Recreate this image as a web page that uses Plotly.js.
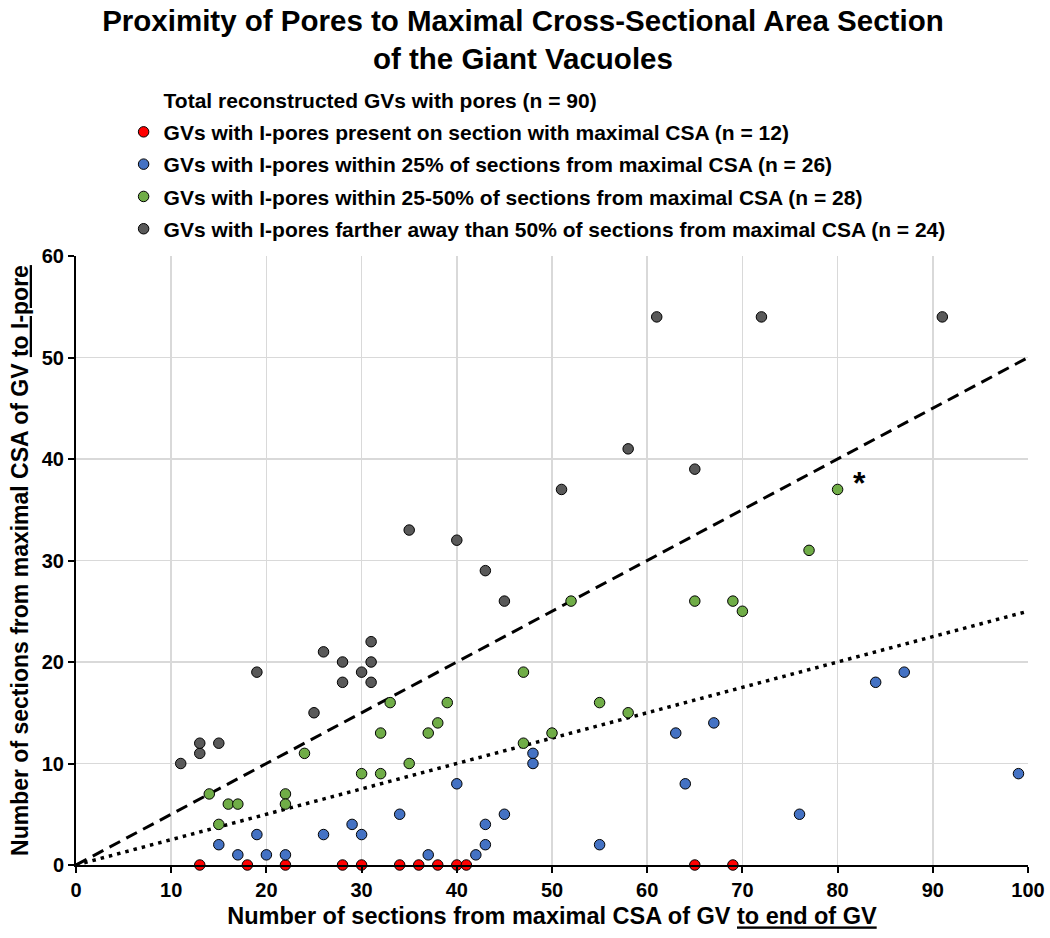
<!DOCTYPE html>
<html><head><meta charset="utf-8">
<script src="https://cdn.plot.ly/plotly-3.0.1.min.js"></script>
<style>html,body{margin:0;padding:0;background:#fff}</style>
</head><body>
<div id="chart" style="width:1050px;height:938px"></div>
<script>
// Data
const redX  = [13, 18, 22, 28, 30, 34, 36, 38, 40, 41, 65, 69];
const redY  = [0, 0, 0, 0, 0, 0, 0, 0, 0, 0, 0, 0];
const blueX = [15, 17, 19, 20, 22, 26, 29, 30, 34, 37, 40, 42, 43, 43, 45, 48, 48, 55, 63, 64, 67, 76, 84, 87, 99];
const blueY = [2, 1, 3, 1, 1, 3, 4, 3, 5, 1, 8, 1, 2, 4, 5, 11, 10, 2, 13, 8, 14, 5, 18, 19, 9];
const greenX = [14, 15, 16, 17, 22, 22, 24, 30, 32, 32, 33, 35, 37, 38, 39, 47, 47, 50, 52, 55, 58, 65, 69, 70, 77, 80];
const greenY = [7, 4, 6, 6, 7, 6, 11, 9, 9, 13, 16, 10, 13, 14, 16, 19, 12, 13, 26, 16, 15, 26, 26, 25, 31, 37];
const grayX = [11, 13, 13, 15, 19, 25, 26, 28, 28, 30, 31, 31, 31, 35, 40, 43, 45, 51, 58, 61, 65, 72, 91];
const grayY = [10, 11, 12, 12, 19, 15, 21, 20, 18, 19, 20, 18, 22, 33, 32, 29, 26, 37, 41, 54, 39, 54, 54];
const refX = [0, 100];
const halfY = [0, 50];      // dashed line: 50%
const quarterY = [0, 25];   // dotted line: 25%
const starX = 82.3, starY = 37.6;

const legendNames = [
  "Total reconstructed GVs with pores (n = 90)",
  "GVs with I-pores present on section with maximal CSA (n = 12)",
  "GVs with I-pores within 25% of sections from maximal CSA (n = 26)",
  "GVs with I-pores within 25-50% of sections from maximal CSA (n = 28)",
  "GVs with I-pores farther away than 50% of sections from maximal CSA (n = 24)"
];
const colors = ["rgba(0,0,0,0)", "#ff0000", "#4472c4", "#70ad47", "#595959"];

const FONT = "Liberation Sans, Arial, sans-serif";

function pts(x, y, i) {
  return {
    type: "scatter", mode: "markers", x: x, y: y, name: legendNames[i],
    legendgroup: "g" + i,
    marker: {size: 10.5, color: colors[i], line: {color: "#000", width: 1}},
    cliponaxis: false, hoverinfo: "x+y"
  };
}

const traces = [
  {type: "scatter", mode: "lines", x: refX, y: halfY, showlegend: false,
   line: {color: "#000", width: 3, dash: "12px,7px"}, hoverinfo: "skip"},
  {type: "scatter", mode: "lines", x: refX, y: quarterY, showlegend: false,
   line: {color: "#000", width: 3.5, dash: "3.5px,5px"}, hoverinfo: "skip"},
  {type: "scatter", mode: "markers", x: [null], y: [null], name: legendNames[0],
   legendgroup: "g0", marker: {size: 10, color: colors[0], line: {width: 0}}},
  pts(redX, redY, 1),
  pts(blueX, blueY, 2),
  pts(greenX, greenY, 3),
  pts(grayX, grayY, 4)
];

const layout = {
  width: 1050, height: 938,
  margin: {l: 76, r: 22, t: 256, b: 73},
  paper_bgcolor: "#fff", plot_bgcolor: "#fff",
  font: {family: FONT, color: "#000", weight: "bold"},
  title: {
    text: "Proximity of Pores to Maximal Cross-Sectional Area Section<br>of the Giant Vacuoles",
    font: {family: FONT, size: 29.5, color: "#000", weight: "bold"},
    x: 0.498, xanchor: "center", xref: "container",
    y: 0.967, yanchor: "top", yref: "container"
  },
  showlegend: true,
  legend: {
    x: 0.050, xanchor: "left", y: 1.29, yanchor: "top",
    xref: "paper", yref: "paper",
    font: {family: FONT, size: 21, color: "#000", weight: "bold"},
    traceorder: "grouped", tracegroupgap: 2,
    bgcolor: "rgba(0,0,0,0)", itemclick: false
  },
  xaxis: {
    range: [0, 100], dtick: 10, tick0: 0,
    showgrid: true, gridcolor: "#d9d9d9", gridwidth: 1.5,
    showline: true, linecolor: "#000", linewidth: 2,
    ticks: "outside", ticklen: 6, tickwidth: 2, tickcolor: "#000",
    zeroline: false,
    tickfont: {family: FONT, size: 20, color: "#000", weight: "bold"},
    title: {text: "Number of sections from maximal CSA of GV <u>to end of GV</u>",
            font: {family: FONT, size: 23.5, color: "#000", weight: "bold"}, standoff: 8}
  },
  yaxis: {
    range: [0, 60], dtick: 10, tick0: 0,
    showgrid: true, gridcolor: "#d9d9d9", gridwidth: 1.5,
    showline: true, linecolor: "#000", linewidth: 2,
    ticks: "outside", ticklen: 6, tickwidth: 2, tickcolor: "#000",
    zeroline: false,
    tickfont: {family: FONT, size: 20, color: "#000", weight: "bold"},
    title: {text: "Number of sections from maximal CSA of GV <u>to I-pore</u>",
            font: {family: FONT, size: 23, color: "#000", weight: "bold"}, standoff: 7}
  },
  annotations: [{
    x: starX, y: starY, xref: "x", yref: "y", text: "*", showarrow: false,
    font: {family: FONT, size: 32, color: "#000", weight: "bold"}
  }]
};

Plotly.newPlot("chart", traces, layout, {displayModeBar: false, staticPlot: true});
</script>
</body></html>
